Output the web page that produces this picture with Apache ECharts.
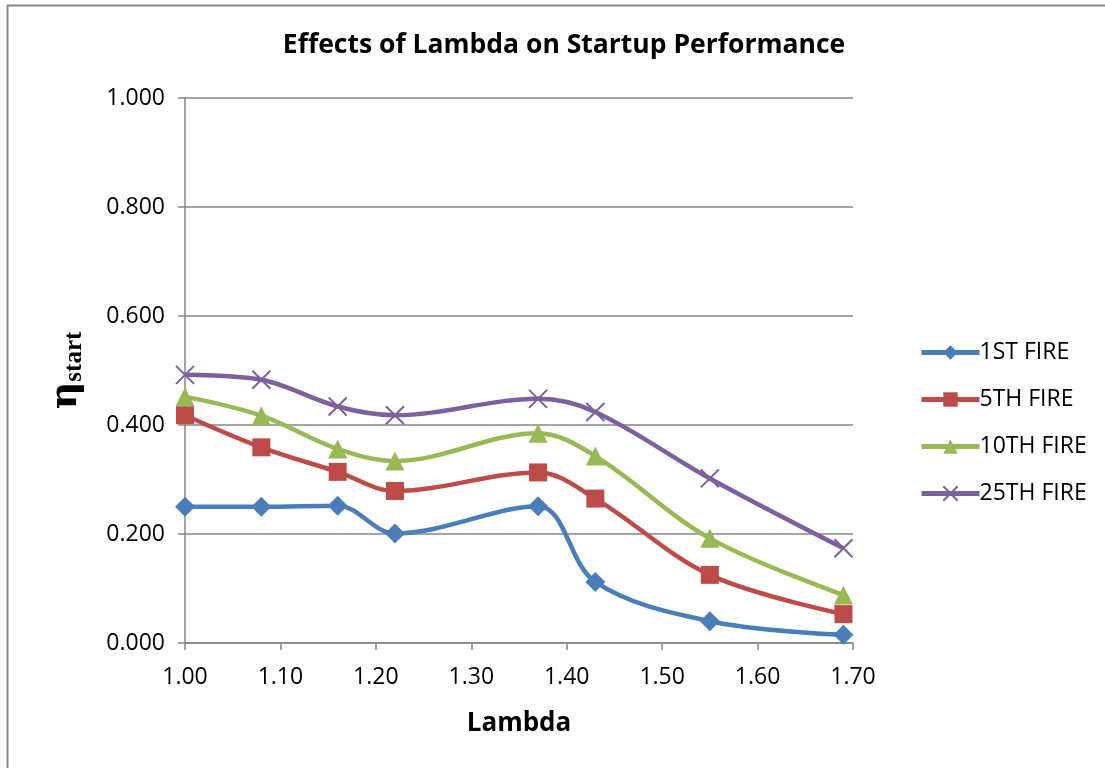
<!DOCTYPE html>
<html>
<head>
<meta charset="utf-8">
<title>Effects of Lambda on Startup Performance</title>
<script src="https://cdn.jsdelivr.net/npm/echarts@6/dist/echarts.min.js"></script>
<style>
  html, body { margin: 0; padding: 0; background: #ffffff; }
  #chart { width: 1105px; height: 768px; }
</style>
</head>
<body>
<div id="chart"></div>
<script>
// Lambda values at which startup efficiency was measured
const lambdas = [1.00, 1.08, 1.16, 1.22, 1.37, 1.43, 1.55, 1.69];

// Startup efficiency per firing number
const fire1  = [0.250, 0.250, 0.252, 0.201, 0.251, 0.112, 0.040, 0.015];
const fire5  = [0.418, 0.359, 0.314, 0.279, 0.313, 0.265, 0.125, 0.053];
const fire10 = [0.452, 0.417, 0.356, 0.334, 0.385, 0.343, 0.192, 0.088];
const fire25 = [0.492, 0.483, 0.434, 0.418, 0.448, 0.424, 0.302, 0.174];

const seriesNames = ['1ST FIRE', '5TH FIRE', '10TH FIRE', '25TH FIRE'];

const FONT = '"Open Sans", "DejaVu Sans", sans-serif';

function pairs(values) {
  return lambdas.map((x, i) => [x, values[i]]);
}

const crossPath = 'path://M0,0L10,10M10,0L0,10';

const chart = echarts.init(document.getElementById('chart'), null, { renderer: 'canvas' });

function lineSeries(name, values, color, symbol, size, extra) {
  return Object.assign({
    name: name,
    type: 'line',
    data: pairs(values),
    smooth: 0.35,
    symbol: symbol,
    symbolSize: size,
    showAllSymbol: true,
    lineStyle: { color: color, width: 4.5 },
    itemStyle: { color: color },
    emphasis: { disabled: true },
    z: 3
  }, extra || {});
}

const option = {
  backgroundColor: '#ffffff',
  animation: false,
  title: {
    text: 'Effects of Lambda on Startup Performance',
    left: 559,
    top: 27,
    textAlign: 'center',
    textStyle: { fontFamily: FONT, fontSize: 26.5, fontWeight: 'bold', color: '#000000' }
  },
  legend: {
    orient: 'vertical',
    left: 914,
    top: 336,
    itemWidth: 58,
    itemHeight: 18,
    itemGap: 24,
    data: seriesNames,
    lineStyle: { width: 5 },
    textStyle: { fontFamily: FONT, fontSize: 23, color: '#000000', padding: [0, 0, 0, -5] }
  },
  grid: {
    left: 185,
    right: 252,
    top: 98,
    bottom: 125,
    containLabel: false
  },
  xAxis: {
    type: 'value',
    min: 1.0,
    max: 1.7,
    interval: 0.1,
    name: 'Lambda',
    nameLocation: 'middle',
    nameGap: 68,
    nameTextStyle: { fontFamily: FONT, fontSize: 26, fontWeight: 'bold', color: '#000000' },
    axisLine: { show: true, lineStyle: { color: '#868686', width: 1.5 } },
    axisTick: { show: true, length: 7, inside: false, lineStyle: { color: '#868686', width: 1.5 } },
    axisLabel: {
      fontFamily: FONT, fontSize: 23, color: '#000000', margin: 23,
      formatter: v => v.toFixed(2)
    },
    splitLine: { show: false }
  },
  yAxis: {
    type: 'value',
    min: 0,
    max: 1,
    interval: 0.2,
    name: '{eta|η}{sub|start}',
    nameLocation: 'middle',
    nameRotate: 90,
    nameGap: 98,
    nameTextStyle: {
      rich: {
        eta: { fontFamily: '"DejaVu Serif", "Liberation Serif", serif', fontSize: 38, fontWeight: 'bold', color: '#000000' },
        sub: { fontFamily: '"Liberation Serif", serif', fontSize: 25, fontWeight: 'bold', color: '#000000', padding: [16, 0, 0, 0] }
      }
    },
    axisLine: { show: true, lineStyle: { color: '#868686', width: 1.5 } },
    axisTick: { show: true, length: 7, lineStyle: { color: '#868686', width: 1.5 } },
    axisLabel: {
      fontFamily: FONT, fontSize: 23, color: '#000000', margin: 20,
      formatter: v => v.toFixed(3)
    },
    splitLine: { show: true, lineStyle: { color: '#868686', width: 1.5 } }
  },
  graphic: [
    { type: 'line', shape: { x1: 7.5, y1: 5, x2: 7.5, y2: 768 }, style: { stroke: '#898989', lineWidth: 2 }, silent: true },
    { type: 'line', shape: { x1: 7, y1: 5.5, x2: 1105, y2: 5.5 }, style: { stroke: '#898989', lineWidth: 2 }, silent: true }
  ],
  series: [
    lineSeries(seriesNames[0], fire1, '#4A7EBB', 'diamond', 20),
    lineSeries(seriesNames[1], fire5, '#BE4B48', 'rect', 18),
    lineSeries(seriesNames[2], fire10, '#98B954', 'triangle', 19),
    lineSeries(seriesNames[3], fire25, '#7D60A0', crossPath, 18, {
      itemStyle: { color: 'none', borderColor: '#7D60A0', borderWidth: 2 }
    })
  ]
};

chart.setOption(option);
</script>
</body>
</html>
